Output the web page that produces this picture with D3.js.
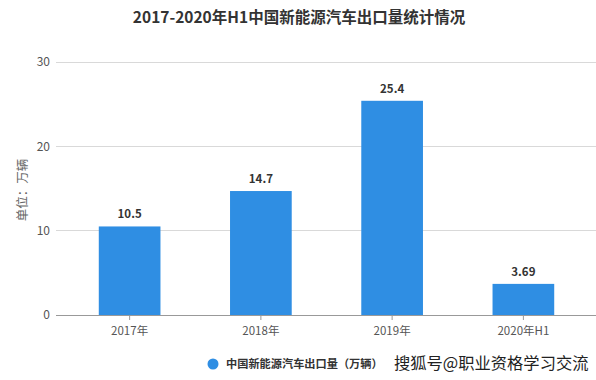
<!DOCTYPE html>
<html><head><meta charset="utf-8">
<script src="https://cdn.jsdelivr.net/npm/d3@7"></script>
<style>body{margin:0;background:#fff;}svg{display:block;font-family:"Noto Sans CJK SC","Noto Sans",sans-serif;}</style>
</head><body>
<svg id="c" width="596" height="380"></svg>
<script>
const categories = ["2017年","2018年","2019年","2020年H1"];
const values = [10.5, 14.7, 25.4, 3.69];
const valueLabels = ["10.5","14.7","25.4","3.69"];
const yTicks = [0,10,20,30];
const title = "2017-2020年H1中国新能源汽车出口量统计情况";
const yLabel = "单位：万辆";
const seriesName = "中国新能源汽车出口量（万辆）";
const sourceText = "搜狐号@职业资格学习交流";

const svg = d3.select("#c");
const x = d3.scaleBand().domain(categories).range([64, 589]).paddingInner(0.53).paddingOuter(0.265);
const y = d3.scaleLinear().domain([0,30]).range([315, 62]);
const barColor = "#2F8EE3";

svg.append("text").attr("x",299).attr("y",23).attr("text-anchor","middle")
  .attr("font-size",15.5).attr("font-weight","bold").attr("fill","#333").text(title);

// grid
svg.append("g").selectAll("line").data(yTicks.filter(d=>d>0)).join("line")
  .attr("x1",56).attr("x2",596).attr("y1",d=>y(d)).attr("y2",d=>y(d))
  .attr("stroke","#d9d9d9").attr("stroke-width",1).attr("shape-rendering","crispEdges");

svg.append("g").selectAll("text").data(yTicks).join("text")
  .attr("x",50).attr("y",d=>y(d)).attr("dy","0.35em").attr("text-anchor","end")
  .attr("font-size",12).attr("fill","#555").text(d=>d);

svg.append("text").attr("transform","translate(23,190) rotate(-90)").attr("text-anchor","middle")
  .attr("dy","0.35em").attr("font-size",12.5).attr("fill","#666").text(yLabel);

// bars
svg.append("g").selectAll("rect").data(values).join("rect")
  .attr("x",(d,i)=>x(categories[i])).attr("width",x.bandwidth())
  .attr("y",d=>y(d)).attr("height",d=>y(0)-y(d)).attr("fill",barColor);

svg.append("g").selectAll("text").data(values).join("text")
  .attr("x",(d,i)=>x(categories[i])+x.bandwidth()/2).attr("y",d=>y(d)-8)
  .attr("text-anchor","middle").attr("font-size",11.5).attr("font-weight","bold").attr("fill","#333")
  .text((d,i)=>valueLabels[i]);

// x axis
const xa = svg.append("g").attr("transform",`translate(0,${y(0)})`)
  .call(d3.axisBottom(x).tickSize(5).tickSizeOuter(0));
xa.select(".domain").attr("d","M56,0.5H596").attr("stroke","#999");
xa.selectAll(".tick line").attr("stroke","#999");
xa.selectAll(".tick text").attr("font-size",11.5).attr("fill","#555").attr("dy","1.05em")
  .attr("font-family",'"Noto Sans CJK SC",sans-serif');

// legend
svg.append("circle").attr("cx",213).attr("cy",364).attr("r",5.5).attr("fill",barColor);
svg.append("text").attr("x",226).attr("y",368).attr("font-size",11.2).attr("font-weight","bold")
  .attr("fill","#333").text(seriesName);
svg.append("text").attr("x",394).attr("y",369).attr("font-size",16.3)
  .attr("fill","#222").text(sourceText);
</script>
</body></html>
